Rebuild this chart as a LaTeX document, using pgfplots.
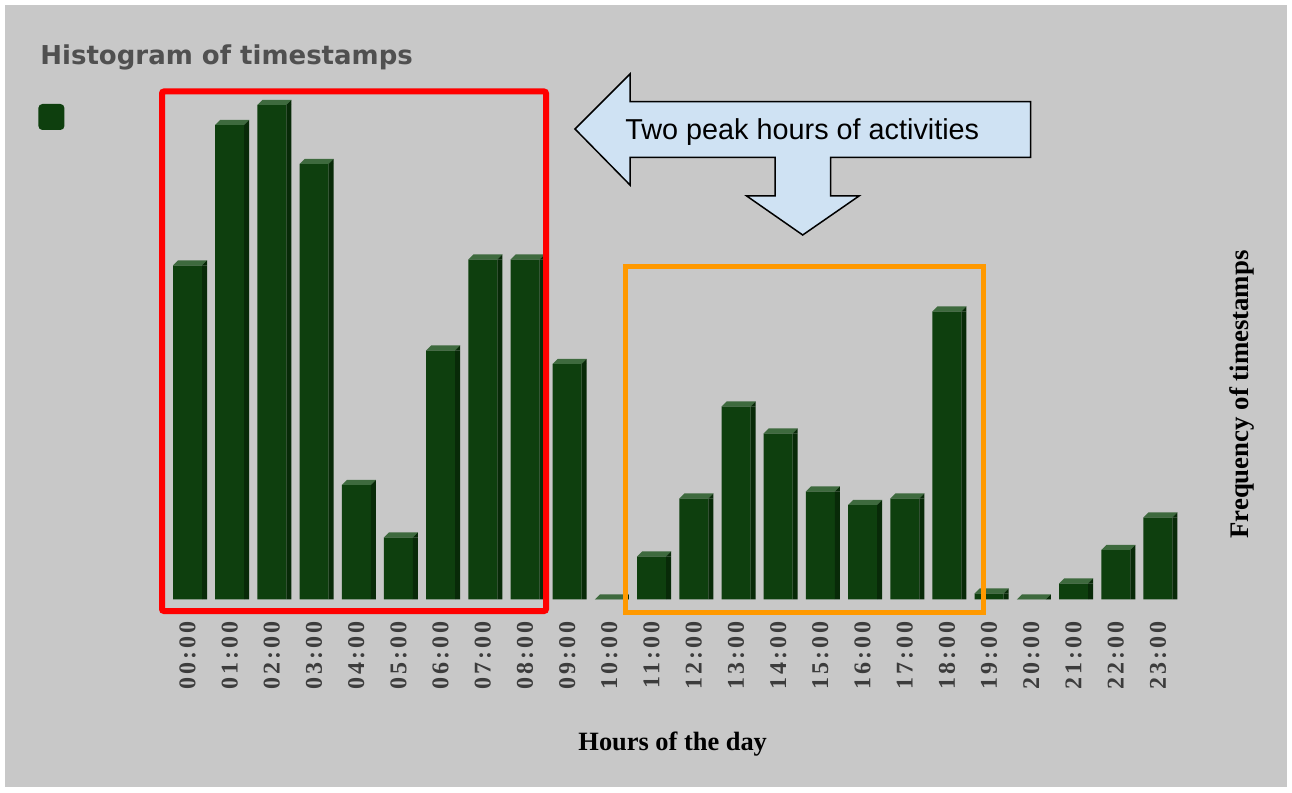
\documentclass[border=0pt]{standalone}
\usepackage{pgfplots}
\pgfplotsset{compat=1.18}
\usepackage{pgfplotstable}
\usepackage{fontspec}
\setmainfont{Liberation Serif}
\newfontfamily\titlefont{DejaVu Sans}
\newfontfamily\tickfont[LetterSpace=12]{Liberation Serif}
\newfontfamily\calloutfont{Liberation Sans}
\definecolor{bggray}{HTML}{C8C8C8}
\definecolor{barfrontc}{HTML}{0E3F0E}
\definecolor{barsidec}{HTML}{082A08}
\definecolor{bartopc}{HTML}{3E6A3E}
\definecolor{titlegray}{HTML}{505050}
\definecolor{tickgray}{HTML}{3C3C3C}
\definecolor{calloutfill}{HTML}{CFE2F3}
\definecolor{orangebox}{HTML}{FF9900}

\pgfdeclareplotmark{bartop}{%
 \pgfsetfillcolor{bartopc}%
 \pgfpathmoveto{\pgfpoint{-7.25bp}{0bp}}%
 \pgfpathlineto{\pgfpoint{7.25bp}{0bp}}%
 \pgfpathlineto{\pgfpoint{9.75bp}{2.5bp}}%
 \pgfpathlineto{\pgfpoint{-4.75bp}{2.5bp}}%
 \pgfpathclose\pgfusepath{fill}%
 \pgfsetfillcolor{barsidec}%
 \pgfpathmoveto{\pgfpoint{7.25bp}{0bp}}%
 \pgfpathlineto{\pgfpoint{9.75bp}{2.5bp}}%
 \pgfpathlineto{\pgfpoint{9.75bp}{0bp}}%
 \pgfpathclose\pgfusepath{fill}%
}

\pgfplotstableread{
x y
0 334
1 474.5
2 494.5
3 435.5
4 114.5
5 62
6 249
7 340
8 340
9 235.5
10 0
11 43
12 101
13 193
14 166
15 108
16 94.5
17 101
18 288
19 6
20 0
21 16
22 49.5
23 82
}\datatable

\begin{document}
\begin{tikzpicture}
\begin{scope}[x=0.5bp,y=0.5bp]
\useasboundingbox (0,0) rectangle (1292,792);
\fill[white] (0,0) rectangle (1292,792);
\fill[bggray] (5,5) rectangle (1287,787);
\node[anchor=base west, inner sep=0pt, text=titlegray, font=\titlefont\bfseries\fontsize{13bp}{15bp}\selectfont] at (40,727) {Histogram of timestamps};
\end{scope}

\begin{axis}[
 at={(83.2bp,96.25bp)}, anchor=south west,
 scale only axis, width=506.3bp, height=250bp,
 xmin=-0.5, xmax=23.5, ymin=0, ymax=500,
 axis line style={draw=none},
 xtick={0,...,23},
 xticklabels={00:00,01:00,02:00,03:00,04:00,05:00,06:00,07:00,08:00,09:00,10:00,11:00,12:00,13:00,14:00,15:00,16:00,17:00,18:00,19:00,20:00,21:00,22:00,23:00},
 ytick=\empty,
 major tick length=0pt,
 xticklabel style={font=\tickfont\bfseries\fontsize{12bp}{14bp}\selectfont, text=tickgray, rotate=90, anchor=east, inner sep=0pt},
 xticklabel shift=11bp,
 xlabel={Hours of the day},
 xlabel style={at={(axis description cs:0.5,-0.29)}, anchor=center, font=\bfseries\fontsize{13.2bp}{15bp}\selectfont, text=black},
 ylabel={Frequency of timestamps},
 ylabel style={at={(axis description cs:1.062,0.41)}, anchor=center, font=\bfseries\fontsize{13.4bp}{15bp}\selectfont, text=black},
 clip=false,
 legend style={at={(axis description cs:-0.1268,0.965)}, anchor=west, draw=none, fill=none, inner sep=0pt, legend cell align=left},
]
\addplot[ybar, bar width=14.5bp, bar shift=0pt, fill=barfrontc, draw=none,
  legend image code/.code={\fill[barfrontc, rounded corners=2bp] (0bp,-6.5bp) rectangle (13bp,6.5bp);}]
  table[x=x,y=y] {\datatable};
\addlegendentry{}
\addplot[ybar, bar width=2.5bp, bar shift=8.5bp, fill=barsidec, draw=none, forget plot]
  table[x=x,y=y] {\datatable};
\addplot[only marks, mark=bartop, forget plot] table[x=x,y=y] {\datatable};
\end{axis}

\begin{scope}[x=0.5bp,y=0.5bp]
\draw[red, line width=3bp, rounded corners=1bp] (162,700.5) rectangle (546,181);
\draw[orangebox, line width=2.5bp] (625,525) rectangle (983,180);
\draw[black, line width=0.75bp, fill=calloutfill, line join=miter]
 (575,663) -- (630,718) -- (630,690.3) -- (1030.7,690.3) -- (1030.7,634.7) -- (830.7,634.7) -- (830.7,596) -- (859,596) -- (802.7,557) -- (746.7,596) -- (775,596) -- (775,634.7) -- (630,634.7) -- (630,607) -- cycle;
\node[anchor=base west, inner sep=0pt, font=\calloutfont\fontsize{14.4bp}{17bp}\selectfont] at (625,652) {Two peak hours of activities};
\end{scope}
\end{tikzpicture}
\end{document}
